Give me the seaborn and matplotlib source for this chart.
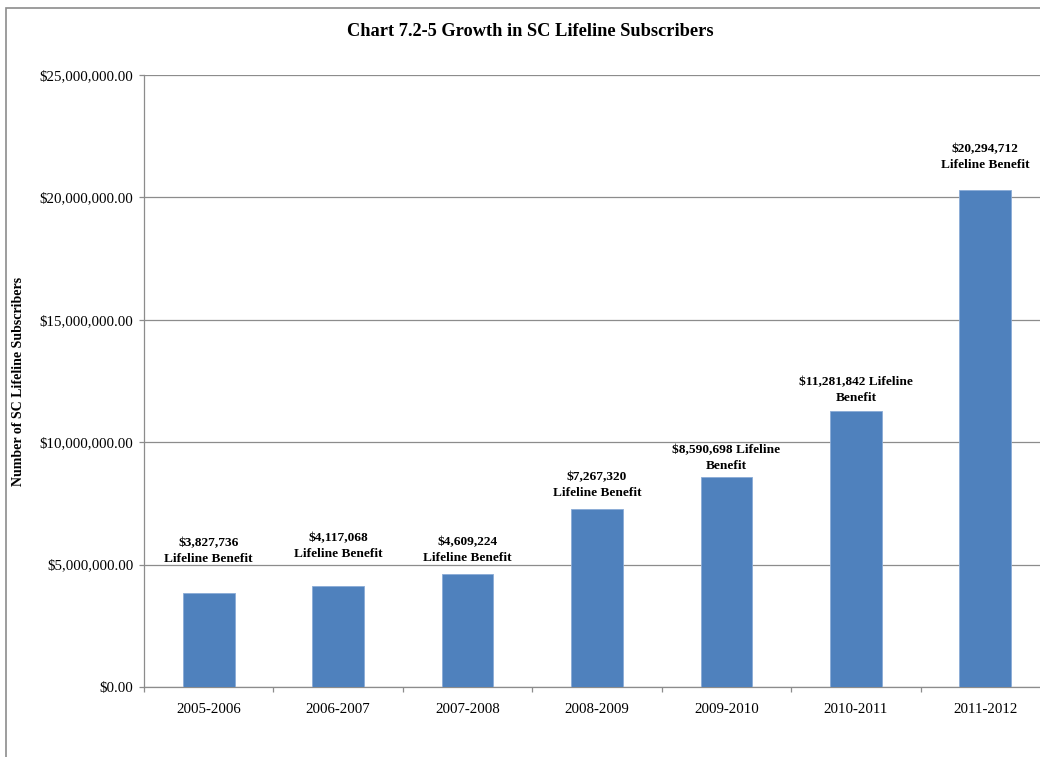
import matplotlib
matplotlib.use("Agg")
import matplotlib.pyplot as plt
import seaborn as sns
import pandas as pd
from matplotlib.patches import Rectangle
from matplotlib.ticker import FuncFormatter, FixedLocator

# Lifeline benefit by fiscal year
years = ["2005-2006", "2006-2007", "2007-2008", "2008-2009",
         "2009-2010", "2010-2011", "2011-2012"]
benefit = [3827736, 4117068, 4609224, 7267320, 8590698, 11281842, 20294712]
label_lines = [
    ["{}", "Lifeline Benefit"],
    ["{}", "Lifeline Benefit"],
    ["{}", "Lifeline Benefit"],
    ["{}", "Lifeline Benefit"],
    ["{} Lifeline", "Benefit"],
    ["{} Lifeline", "Benefit"],
    ["{}", "Lifeline Benefit"],
]

# label lift above each bar top, in points
label_lift = [20.5, 19, 7.5, 7.5, 3.5, 5, 14]

df = pd.DataFrame({"year": years, "benefit": benefit})

sns.set_style("white")
plt.rcParams["font.family"] = ["Liberation Serif", "DejaVu Serif"]
plt.rcParams["text.color"] = "black"
plt.rcParams["axes.labelcolor"] = "black"
plt.rcParams["xtick.labelcolor"] = "black"
plt.rcParams["ytick.labelcolor"] = "black"

fig = plt.figure(figsize=(10.4, 7.57), dpi=100)
ax = fig.add_axes([144 / 1040, 1 - 687 / 757, (1050 - 144) / 1040, (687 - 75) / 757])

sns.barplot(data=df, x="year", y="benefit", color="#4F81BD", width=0.4,
            edgecolor="#8AABD6", linewidth=0.6, saturation=1, ax=ax, zorder=3)

ax.set_xlim(-0.5, len(years) - 0.5)
ax.set_ylim(0, 25_000_000)
ax.yaxis.set_major_locator(FixedLocator([0, 5e6, 10e6, 15e6, 20e6, 25e6]))
ax.yaxis.set_major_formatter(FuncFormatter(lambda v, p: "${:,.2f}".format(v)))
ax.grid(axis="y", color="#8c8c8c", linewidth=0.9, zorder=0)
ax.set_axisbelow(True)

# category boundary ticks on x, labels centred under bars
ax.set_xticks([i - 0.5 for i in range(len(years) + 1)])
ax.set_xticklabels([])
ax.set_xticks(range(len(years)), minor=True)
ax.set_xticklabels(years, minor=True)
ax.tick_params(axis="x", which="major", direction="out", length=3.6, color="#8c8c8c", width=0.9)
ax.tick_params(axis="x", which="minor", length=0, pad=11.5, labelsize=10.7, labelcolor="black")
ax.tick_params(axis="y", direction="out", length=3.6, color="#8c8c8c", width=0.9, pad=4,
               labelsize=10.7, labelcolor="black")
ax.tick_params(bottom=True, left=True, which="major")

for side in ["top", "right"]:
    ax.spines[side].set_visible(False)
for side in ["left", "bottom"]:
    ax.spines[side].set_color("#8c8c8c")
    ax.spines[side].set_linewidth(0.9)

ax.set_xlabel("")
ax.set_ylabel("Number of SC Lifeline Subscribers", fontsize=10, fontweight="bold", color="black")
ax.yaxis.set_label_coords((25 - 144) / 906, 0.5)

for i, (v, lines, lift) in enumerate(zip(benefit, label_lines, label_lift)):
    txt = "\n".join([lines[0].format("${:,}".format(v)), lines[1]])
    ax.annotate(txt, xy=(i, v), xytext=(0, lift), textcoords="offset points",
                ha="center", va="bottom", fontsize=9.6, fontweight="bold",
                linespacing=1.4, color="black")

fig.text(530 / 1040, 1 - 31 / 757, "Chart 7.2-5 Growth in SC Lifeline Subscribers",
         ha="center", va="center", fontsize=13.2, fontweight="bold", color="black")

# outer chart border
fig.patches.append(Rectangle((6 / 1040, -0.05), 1.1, 1 - 8 / 757 + 0.05,
                             transform=fig.transFigure, fill=False,
                             edgecolor="#8c8c8c", linewidth=1.2))

fig.savefig("out.png", dpi=100)
